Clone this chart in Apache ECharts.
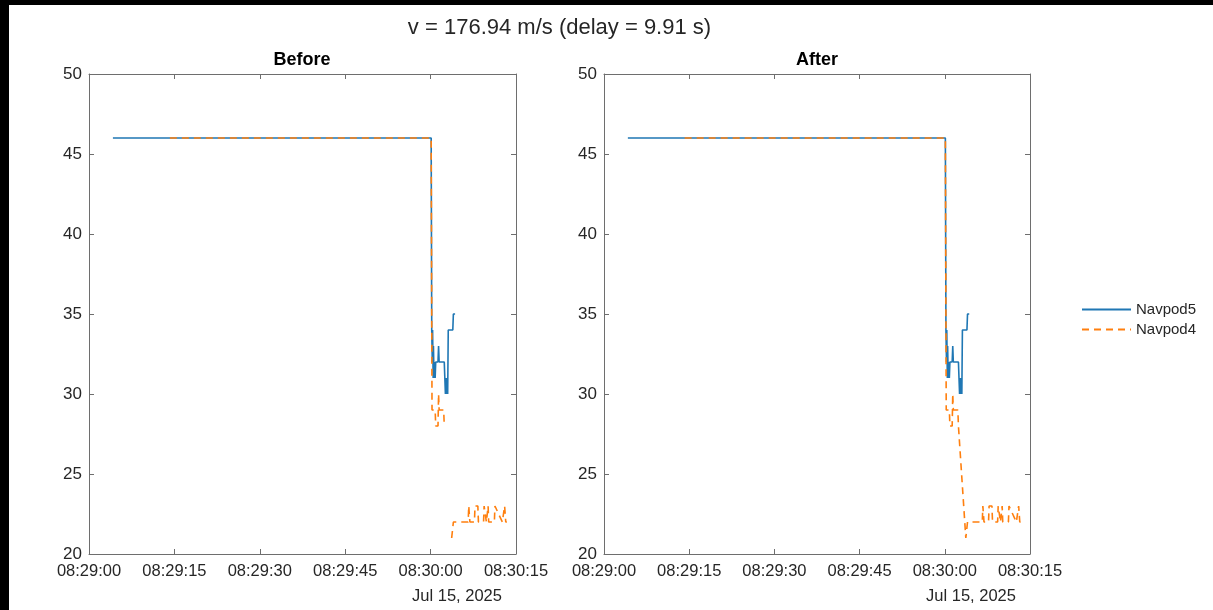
<!DOCTYPE html>
<html>
<head>
<meta charset="utf-8">
<script src="https://cdn.jsdelivr.net/npm/echarts@6/dist/echarts.min.js"></script>
<style>
html,body{margin:0;padding:0;background:#000;width:1213px;height:610px;overflow:hidden;}
#chart{position:absolute;left:9px;top:5px;width:1204px;height:605px;background:#fff;}
</style>
</head>
<body>
<div id="chart"></div>
<script>
// x values are seconds after 08:29:00 on Jul 15, 2025
const tickLabels = ['08:29:00','08:29:15','08:29:30','08:29:45','08:30:00','08:30:15'];
const yTicks = [20, 25, 30, 35, 40, 45, 50];
const dateLabel = 'Jul 15, 2025';
const mainTitle = 'v = 176.94 m/s (delay = 9.91 s)';
const panelTitles = ['Before', 'After'];
const seriesNames = ['Navpod5', 'Navpod4'];

const navpod5T = [4.2, 60.1, 60.2, 60.3, 60.35, 60.45, 60.5, 60.6, 60.7, 60.8, 60.9, 61.3, 61.4, 61.5, 62.4, 62.5, 62.6, 62.7, 62.8, 62.9, 63.0, 63.1, 63.9, 64.0, 64.3];
const navpod5V = [46, 46, 34, 32, 34, 31, 33, 31, 32, 31, 32, 32, 33, 32, 32, 31, 30, 31, 30, 31, 30, 34, 34, 35, 35];

const navpod4T = [14.2, 60.1, 60.25, 60.8, 60.9, 61.3, 61.4, 61.5, 62.3, 62.4, 62.5, 63.1, 63.7, 64.0, 66.6, 66.7, 66.9, 67.7, 67.8, 68.3, 68.4, 69.3, 69.4, 69.7, 69.8, 70.1, 70.2, 71.2, 71.3, 72.6, 72.8, 73.0, 73.2, 73.4];
const navpod4V = [46, 46, 29, 29, 28, 28, 30, 29, 29, 28, 28, null, 21, 22, 22, 23, 22, 22, 23, 23, 22, 22, 23, 23, 22, 23, 22, 22, 23, 22, 22, 23, 22, 22];

const BLUE = '#1f77b4', ORANGE = '#ff7f0e';
const TXT = '#262626', AX = '#6e6e6e';
const FONT = 'Liberation Sans, Arial, sans-serif';

function pairs(t, v) { return t.map((x, i) => [x, v[i]]); }

const grids = [
  { left: 80, top: 69, width: 427, height: 480 },
  { left: 595, top: 69, width: 426, height: 480 }
];

const xAxes = [], yAxes = [];
grids.forEach((g, gi) => {
  ['bottom', 'top'].forEach(pos => {
    xAxes.push({
      type: 'value', gridIndex: gi, position: pos, min: 0, max: 75, interval: 15,
      axisLine: { show: true, onZero: false, lineStyle: { color: AX, width: 1 } },
      axisTick: { show: true, inside: true, length: 5, lineStyle: { color: AX } },
      splitLine: { show: false },
      axisLabel: pos === 'bottom' ? {
        show: true, margin: 9, color: TXT, fontSize: 16.5, fontFamily: FONT,
        formatter: v => tickLabels[Math.round(v / 15)]
      } : { show: false }
    });
  });
  ['left', 'right'].forEach(pos => {
    yAxes.push({
      type: 'value', gridIndex: gi, position: pos, min: yTicks[0], max: yTicks[yTicks.length - 1], interval: 5,
      axisLine: { show: true, onZero: false, lineStyle: { color: AX, width: 1 } },
      axisTick: { show: true, inside: true, length: 5, lineStyle: { color: AX } },
      splitLine: { show: false },
      axisLabel: pos === 'left' ? { show: true, margin: 7, color: TXT, fontSize: 17, fontFamily: FONT } : { show: false }
    });
  });
});

const series = [];
grids.forEach((g, gi) => {
  series.push({
    name: seriesNames[0], type: 'line', xAxisIndex: gi * 2, yAxisIndex: gi * 2,
    data: pairs(navpod5T, navpod5V), symbol: 'none', showSymbol: false,
    lineStyle: { color: BLUE, width: 1.6, type: 'solid' }, itemStyle: { color: BLUE },
    connectNulls: false
  });
  series.push({
    name: seriesNames[1], type: 'line', xAxisIndex: gi * 2, yAxisIndex: gi * 2,
    data: pairs(navpod4T, navpod4V), symbol: 'none', showSymbol: false,
    lineStyle: { color: ORANGE, width: 1.6, type: [7, 5] }, itemStyle: { color: ORANGE },
    connectNulls: gi === 1
  });
});

const chart = echarts.init(document.getElementById('chart'), null, { renderer: 'canvas' });
chart.setOption({
  animation: false,
  backgroundColor: '#fff',
  grid: grids,
  xAxis: xAxes,
  yAxis: yAxes,
  series: series,
  legend: {
    data: seriesNames, orient: 'vertical', left: 1067, top: 292,
    itemWidth: 49, itemHeight: 14, itemGap: 5,
    itemStyle: { opacity: 0 },
    textStyle: { color: TXT, fontSize: 15, fontFamily: FONT }
  },
  graphic: [
    { type: 'text', style: { text: mainTitle, x: 550.5, y: 23, fill: TXT, font: '22px ' + FONT, textAlign: 'center', textVerticalAlign: 'middle' } },
    { type: 'text', style: { text: panelTitles[0], x: 293, y: 55, fill: '#000', font: 'bold 18px ' + FONT, textAlign: 'center', textVerticalAlign: 'middle' } },
    { type: 'text', style: { text: panelTitles[1], x: 808, y: 55, fill: '#000', font: 'bold 18px ' + FONT, textAlign: 'center', textVerticalAlign: 'middle' } },
    { type: 'text', style: { text: dateLabel, x: 448, y: 591, fill: TXT, font: '16.5px ' + FONT, textAlign: 'center', textVerticalAlign: 'middle' } },
    { type: 'text', style: { text: dateLabel, x: 962, y: 591, fill: TXT, font: '16.5px ' + FONT, textAlign: 'center', textVerticalAlign: 'middle' } }
  ]
});
</script>
</body>
</html>
